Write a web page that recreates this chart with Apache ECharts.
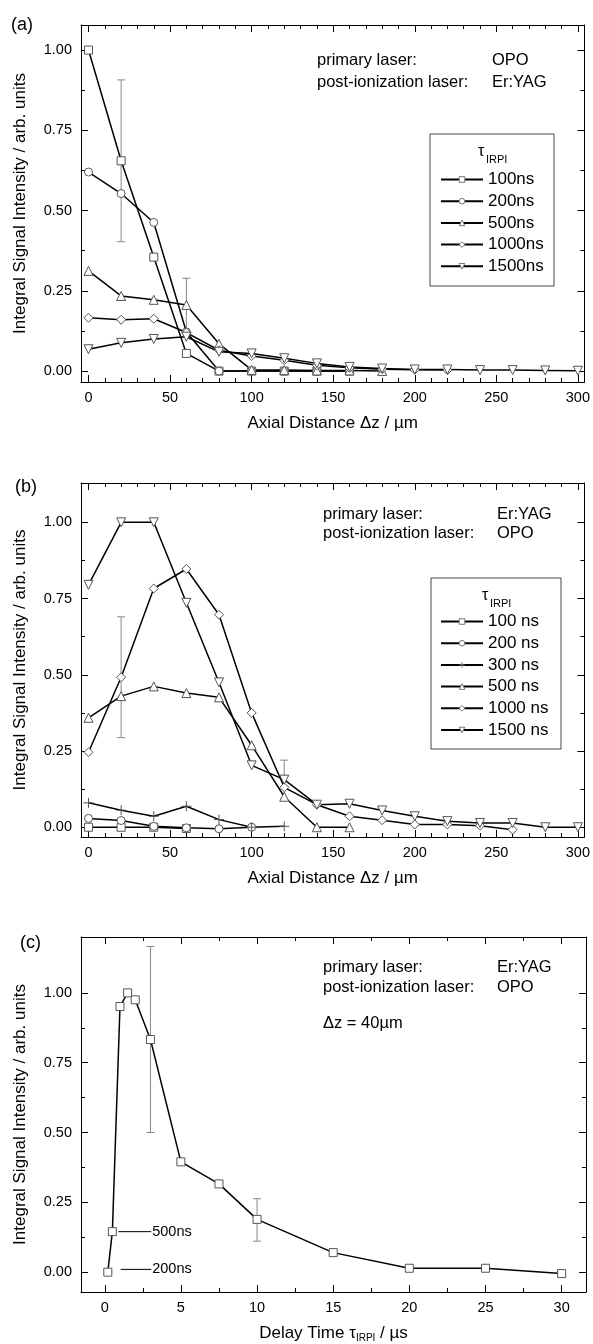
<!DOCTYPE html>
<html>
<head>
<meta charset="utf-8">
<script src="https://cdn.jsdelivr.net/npm/echarts@6/dist/echarts.min.js"></script>
<style>
  html, body { margin: 0; padding: 0; background: #fff; }
  #chart { width: 593px; height: 1344px; }
</style>
</head>
<body>
<div id="chart"></div>
<script>
// ---- data (a): primary OPO, post-ionization Er:YAG ----
const zA = [0, 20, 40, 60, 80, 100, 120, 140, 160, 180, 200, 220, 240, 260, 280, 300];
const a100 = [1.00, 0.655, 0.355, 0.055, 0.0, 0.0, 0.0, 0.0, 0.0];
const a200 = [0.62, 0.553, 0.463, 0.122, 0.0, 0.0, 0.0, 0.0, 0.0];
const a500 = [0.312, 0.234, 0.222, 0.206, 0.085, 0.004, 0.003, 0.002, 0.002, 0.0];
const a1000 = [0.166, 0.16, 0.163, 0.12, 0.065, 0.047, 0.034, 0.018, 0.01, 0.006, 0.004, 0.003];
const a1500 = [0.068, 0.088, 0.1, 0.107, 0.06, 0.055, 0.04, 0.024, 0.013, 0.008, 0.005, 0.005, 0.003, 0.003, 0.002, 0.001];
const aErr = [[20, 0.655, 0.252], [60, 0.206, 0.083]];

// ---- data (b): primary Er:YAG, post-ionization OPO ----
const zB = [0, 20, 40, 60, 80, 100, 120, 140, 160, 180, 200, 220, 240, 260, 280, 300];
const b100 = [0.0, 0.0, 0.0, -0.004];
const b200 = [0.029, 0.022, 0.003, -0.002, -0.005, 0.0];
const b300 = [0.08, 0.056, 0.036, 0.069, 0.025, 0.0, 0.003];
const b500 = [0.359, 0.43, 0.462, 0.44, 0.426, 0.269, 0.10, 0.0, 0.0];
const b1000 = [0.246, 0.492, 0.783, 0.847, 0.697, 0.375, 0.131, 0.074, 0.036, 0.023, 0.009, 0.009, 0.005, -0.008];
const b1500 = [0.795, 1.0, 1.0, 0.736, 0.475, 0.203, 0.156, 0.074, 0.077, 0.055, 0.036, 0.02, 0.014, 0.014, 0.0, 0.0];
const bErr = [[20, 0.492, 0.198], [120, 0.156, 0.064]];

// ---- data (c): delay time scan, dz = 40 um ----
const tC = [0.2, 0.5, 1, 1.5, 2, 3, 5, 7.5, 10, 15, 20, 25, 30];
const c40 = [0.0, 0.145, 0.951, 1.0, 0.975, 0.833, 0.395, 0.316, 0.189, 0.07, 0.014, 0.014, -0.005];
const cErr = [[3, 0.833, 0.333], [10, 0.187, 0.076]];
const cNotes = [[0.9, 0.145, 3.05, '500ns'], [1.05, 0.01, 3.05, '200ns']];

// ---- tick labels ----
const zTicks = [0, 50, 100, 150, 200, 250, 300];
const zMinor = [10, 20, 30, 40, 60, 70, 80, 90, 110, 120, 130, 140, 160, 170, 180, 190, 210, 220, 230, 240, 260, 270, 280, 290];
const tTicks = [0, 5, 10, 15, 20, 25, 30];
const tMinor = [2.5, 7.5, 12.5, 17.5, 22.5, 27.5];
const yTicks = [0, 0.25, 0.5, 0.75, 1.0];
const yMinor = [0.125, 0.375, 0.625, 0.875];

const FONT = '"Liberation Sans", Arial, sans-serif';
const chart = echarts.init(document.getElementById('chart'));

const grids = [], xAxes = [], yAxes = [], series = [], legends = [];

function tick(vals, len) {
  return { show: true, inside: true, length: len, customValues: vals, lineStyle: { color: '#000', width: 1 } };
}
function axisSet(list, p, pos, min, max, major, minor, main) {
  const common = { type: 'value', gridIndex: p, min: min, max: max, position: pos, splitLine: { show: false } };
  list.push(Object.assign({}, common, main, {
    axisLine: { show: true, onZero: false, lineStyle: { color: '#000', width: 1 } },
    axisTick: tick(major, 7)
  }));
  list.push(Object.assign({}, common, {
    axisLine: { show: false, onZero: false }, axisTick: tick(minor, 4), axisLabel: { show: false }
  }));
}

function panel(p, g, xr, yr, xMajor, xMinor, xName) {
  grids.push(Object.assign({ containLabel: false }, g));
  axisSet(xAxes, p, 'bottom', xr[0], xr[1], xMajor, xMinor, {
    axisLabel: { show: true, customValues: xMajor, fontSize: 14.5, color: '#000', fontFamily: FONT, margin: 8 },
    name: xName.text, nameLocation: 'middle', nameGap: xName.gap || 33,
    nameTextStyle: Object.assign({ fontSize: 17, color: '#000', fontFamily: FONT }, xName.style || {})
  });
  axisSet(xAxes, p, 'top', xr[0], xr[1], xMajor, xMinor, { axisLabel: { show: false } });
  axisSet(yAxes, p, 'left', yr[0], yr[1], yTicks, yMinor, {
    axisLabel: { show: true, customValues: yTicks, fontSize: 14.5, color: '#000', fontFamily: FONT, margin: 9,
      formatter: v => v.toFixed(2) },
    name: 'Integral Signal Intensity / arb. units', nameLocation: 'middle', nameRotate: 90, nameGap: 52,
    nameTextStyle: { fontSize: 17, color: '#000', fontFamily: FONT }
  });
  axisSet(yAxes, p, 'right', yr[0], yr[1], yTicks, yMinor, { axisLabel: { show: false } });
}

const SYM = {
  square: { symbol: 'rect', size: 8, rot: 0 },
  circle: { symbol: 'circle', size: 8, rot: 0 },
  up: { symbol: 'triangle', size: 9, rot: 0 },
  down: { symbol: 'triangle', size: 9, rot: 180 },
  diamond: { symbol: 'diamond', size: 9, rot: 0 },
  plus: { symbol: 'path://M0,5L10,5M5,0L5,10', size: 10, rot: 0 }
};

function line(p, name, xs, ys, sym) {
  const s = SYM[sym];
  series.push({
    type: 'line', name: name, xAxisIndex: 4 * p, yAxisIndex: 4 * p,
    data: ys.map((v, i) => [xs[i], v]),
    symbol: s.symbol, symbolSize: s.size, symbolRotate: s.rot, showAllSymbol: true,
    lineStyle: { color: '#000', width: 1.5 },
    itemStyle: { color: sym === 'plus' ? 'rgba(0,0,0,0)' : '#fff', borderColor: '#555', borderWidth: 1 },
    emphasis: { disabled: true }, z: 3, animation: false
  });
}

function errBars(p, rows) {
  series.push({
    type: 'custom', xAxisIndex: 4 * p, yAxisIndex: 4 * p, data: rows, z: 1, animation: false, silent: true,
    renderItem: function (params, api) {
      const x = api.value(0), y = api.value(1), e = api.value(2);
      const a = api.coord([x, y + e]), b = api.coord([x, y - e]);
      const st = { stroke: '#888', lineWidth: 1 };
      return { type: 'group', children: [
        { type: 'line', shape: { x1: a[0], y1: a[1], x2: b[0], y2: b[1] }, style: st },
        { type: 'line', shape: { x1: a[0] - 4, y1: a[1], x2: a[0] + 4, y2: a[1] }, style: st },
        { type: 'line', shape: { x1: b[0] - 4, y1: b[1], x2: b[0] + 4, y2: b[1] }, style: st }
      ] };
    }
  });
}

// panel a
panel(0, { left: 81, top: 25, width: 505, height: 357 }, [-4.6, 304], [-0.034, 1.078], zTicks, zMinor,
  { text: 'Axial Distance Δz / µm' });
errBars(0, aErr);
line(0, '100ns', zA, a100, 'square');
line(0, '200ns', zA, a200, 'circle');
line(0, '500ns', zA, a500, 'up');
line(0, '1000ns', zA, a1000, 'diamond');
line(0, '1500ns', zA, a1500, 'down');

// panel b
panel(1, { left: 81, top: 483, width: 505, height: 354 }, [-4.6, 304], [-0.032, 1.129], zTicks, zMinor,
  { text: 'Axial Distance Δz / µm' });
errBars(1, bErr);
line(1, '100 ns', zB, b100, 'square');
line(1, '200 ns', zB, b200, 'circle');
line(1, '300 ns', zB, b300, 'plus');
line(1, '500 ns', zB, b500, 'up');
line(1, '1000 ns', zB, b1000, 'diamond');
line(1, '1500 ns', zB, b1500, 'down');

// panel c
panel(2, { left: 81, top: 937, width: 505, height: 356 }, [-1.56, 31.6], [-0.071, 1.2], tTicks, tMinor, {
  text: '{a|Delay Time τ}{s|IRPI}{a| / µs}', gap: 31,
  style: { rich: { a: { fontSize: 17, color: '#000', fontFamily: FONT }, s: { fontSize: 10, color: '#000', fontFamily: FONT, padding: [10, 0, 0, 0] } } }
});
errBars(2, cErr);
line(2, 'delay', tC, c40, 'square');
series.push({
  type: 'custom', xAxisIndex: 8, yAxisIndex: 8, data: cNotes, z: 2, animation: false, silent: true,
  renderItem: function (params, api) {
    const a = api.coord([api.value(0), api.value(1)]), b = api.coord([api.value(2), api.value(1)]);
    return { type: 'group', children: [
      { type: 'line', shape: { x1: a[0], y1: a[1], x2: b[0], y2: b[1] }, style: { stroke: '#000', lineWidth: 1 } },
      { type: 'text', x: b[0] + 1, y: b[1], style: { text: cNotes[params.dataIndex][3], fontSize: 14.5, fontFamily: FONT, fill: '#000', verticalAlign: 'middle' } }
    ] };
  }
});

const legendBase = {
  orient: 'vertical', itemWidth: 42, itemHeight: 7, padding: 0, itemGap: 4.7,
  textStyle: { fontSize: 17, color: '#000', fontFamily: FONT },
  itemStyle: { color: '#fff', borderColor: '#777', borderWidth: 1 },
  lineStyle: { width: 2, color: '#000' }, selectedMode: false
};
legends.push(Object.assign({}, legendBase, { left: 440, top: 171, data: ['100ns', '200ns', '500ns', '1000ns', '1500ns'] }));
legends.push(Object.assign({}, legendBase, { left: 440, top: 613, data: ['100 ns', '200 ns', '300 ns', '500 ns', '1000 ns', '1500 ns'] }));

function txt(x, y, s, size) {
  return { type: 'text', x: x, y: y, style: { text: s, fontSize: size || 16.5, fontFamily: FONT, fill: '#000', verticalAlign: 'middle' } };
}
const graphics = [
  txt(11, 25, '(a)', 18), txt(15, 487, '(b)', 18), txt(20, 943, '(c)', 18),
  txt(317, 60, 'primary laser:'), txt(317, 82, 'post-ionization laser:'), txt(492, 60, 'OPO'), txt(492, 82, 'Er:YAG'),
  txt(323, 514, 'primary laser:'), txt(323, 533, 'post-ionization laser:'), txt(497, 514, 'Er:YAG'), txt(497, 533, 'OPO'),
  txt(323, 967, 'primary laser:'), txt(323, 987, 'post-ionization laser:'), txt(497, 967, 'Er:YAG'), txt(497, 987, 'OPO'),
  txt(323, 1023, 'Δz = 40µm'),
  { type: 'rect', shape: { x: 430, y: 134, width: 124, height: 152 }, style: { fill: 'none', stroke: '#444', lineWidth: 1 } },
  { type: 'rect', shape: { x: 431, y: 578, width: 130, height: 171 }, style: { fill: 'none', stroke: '#444', lineWidth: 1 } },
  txt(478, 152, 'τ', 16), txt(486, 160, 'IRPI', 11),
  txt(482, 596, 'τ', 16), txt(490, 604, 'IRPI', 11)
];

chart.setOption({
  animation: false,
  backgroundColor: '#fff',
  textStyle: { fontFamily: FONT },
  grid: grids, xAxis: xAxes, yAxis: yAxes, legend: legends, series: series, graphic: graphics
});
</script>
</body>
</html>
